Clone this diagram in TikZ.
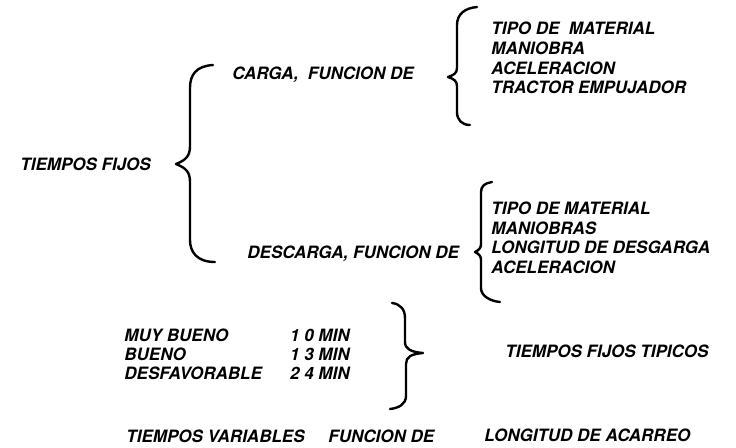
\documentclass[tikz,border=0pt]{standalone}
\usepackage{fontspec}
\setmainfont{TeX Gyre Heros}
\usetikzlibrary{positioning}
\newcommand{\labelfont}{\fontsize{8.5}{10}\selectfont\bfseries\itshape}
\tikzset{
  lbl/.style={anchor=west,inner sep=0pt,text depth=0pt,font=\labelfont},
  brace/.style={line width=1.2pt,line cap=round,line join=round}
}

\begin{document}
\begin{tikzpicture}[x=0.5pt,y=-0.5pt]
  \useasboundingbox (0,0) rectangle (736,447);

  % main branch
  \node[lbl] (fijos) at (20,164) {TIEMPOS FIJOS};
  \draw[brace] (213,65) .. controls (196,66) and (190,75) .. (190,88)
    -- (190,146) .. controls (190,156) and (186,160) .. (176,164)
    .. controls (186,168) and (190,172) .. (190,182)
    -- (190,240) .. controls (190,252) and (197,262) .. (215,262);
  \node[lbl] (carga) at (232,73) {CARGA,\ \ FUNCION DE};
  \node[lbl] (descarga) at (247,252) {DESCARGA, FUNCION DE};

  % carga
  \draw[brace] (477,7) .. controls (465,8) and (457,14) .. (457,25)
    -- (457,68) .. controls (457,73) and (454,75) .. (448,77)
    .. controls (454,79) and (457,81) .. (457,86)
    -- (457,112) .. controls (457,120) and (462,125) .. (470,125);
  \node[lbl] (cmat) at (491,28) {TIPO DE\ \ MATERIAL};
  \node[lbl] (cman) at (491,48) {MANIOBRA};
  \node[lbl] (cacel) at (491,68) {ACELERACION};
  \node[lbl] (ctrac) at (491,87) {TRACTOR EMPUJADOR};

  % descarga
  \draw[brace] (492,182) .. controls (485,183) and (481,186) .. (481,192)
    -- (481,244) .. controls (481,248) and (479,250) .. (475,252)
    .. controls (479,254) and (481,256) .. (481,260)
    -- (481,288) .. controls (481,296) and (490,301) .. (500,302);
  \node[lbl] (dmat) at (491,208) {TIPO DE MATERIAL};
  \node[lbl] (dman) at (491,228) {MANIOBRAS};
  \node[lbl] (dlong) at (491,247) {LONGITUD DE DESGARGA};
  \node[lbl] (dacel) at (491,267) {ACELERACION};

  % tiempos tipicos
  \node[lbl] (muy) at (124,335) {MUY BUENO};
  \node[lbl] (bueno) at (124,354) {BUENO};
  \node[lbl] (desf) at (124,373) {DESFAVORABLE};
  \node[lbl,anchor=east] (tmuy) at (350,335) {1 0 MIN};
  \node[lbl,anchor=east] (tbueno) at (350,354) {1 3 MIN};
  \node[lbl,anchor=east] (tdesf) at (350,373) {2 4 MIN};
  \draw[brace] (392,303) .. controls (400,304) and (405,309) .. (405,318)
    -- (405,342) .. controls (405,349) and (411,352) .. (423,353)
    .. controls (411,354) and (406,357) .. (406,364)
    -- (406,396) .. controls (406,404) and (399,408) .. (390,409);
  \node[lbl] (tipicos) at (505,351) {TIEMPOS FIJOS TIPICOS};

  % tiempos variables
  \node[lbl] (variables) at (126,436) {TIEMPOS VARIABLES};
  \node[lbl] (funcion) at (328,436) {FUNCION DE};
  \node[lbl] (acarreo) at (484,435) {LONGITUD DE ACARREO};
\end{tikzpicture}
\end{document}
